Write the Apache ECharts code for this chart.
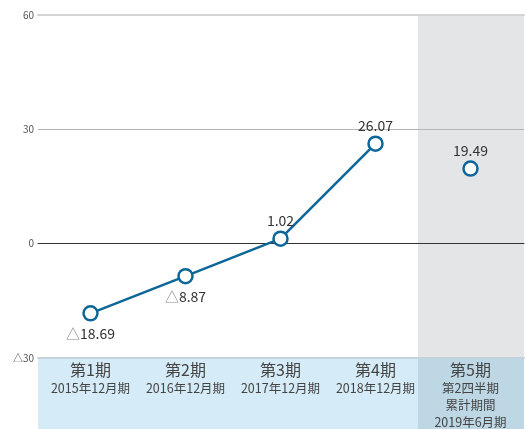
<!DOCTYPE html>
<html>
<head>
<meta charset="utf-8">
<script src="https://cdn.jsdelivr.net/npm/echarts@6/dist/echarts.min.js"></script>
<style>
  html, body { margin: 0; padding: 0; background: #fff; }
  #chart { width: 527px; height: 429px; }
</style>
</head>
<body>
<div id="chart"></div>
<script>
var categories = ['第1期', '第2期', '第3期', '第4期', '第5期'];
var periodLabels = ['2015年12月期', '2016年12月期', '2017年12月期', '2018年12月期', '第2四半期\n累計期間\n2019年6月期'];
var annualValues = [-18.69, -8.87, 1.02, 26.07, '-'];
var interimValues = ['-', '-', '-', '-', 19.49];
var yMin = -30, yMax = 60, yStep = 30;

var font = '"Noto Sans CJK JP", "Noto Sans", sans-serif';
var lineColor = '#0d6698';

// plot frame (pixels)
var frameLeft = 38, frameRight = 524, plotTop = 15, plotBottom = 358, splitX = 418;

function fmtNum(v) {
    if (v < 0) return '{tri|△}{num|' + Math.abs(v).toFixed(2) + '}';
    return '{num|' + v.toFixed(2) + '}';
}

function toPoints(arr) {
    return arr.map(function (v) {
        if (v === '-') return '-';
        return { value: v, label: { position: v < 0 ? 'bottom' : 'top', distance: v < 0 ? 5 : 3 } };
    });
}

var labelRich = {
    tri: { fontFamily: font, fontSize: 14, color: '#888' },
    num: { fontFamily: font, fontSize: 14, color: '#333' }
};

var chart = echarts.init(document.getElementById('chart'));
var option = {
    animation: false,
    backgroundColor: '#fff',
    textStyle: { fontFamily: font },
    graphic: [
        { type: 'rect', z: -10, shape: { x: splitX, y: plotTop, width: frameRight - splitX, height: plotBottom - plotTop }, style: { fill: '#e4e5e7' } },
        { type: 'rect', z: -10, shape: { x: frameLeft, y: plotBottom, width: splitX - frameLeft, height: 429 - plotBottom }, style: { fill: '#d5ebf7' } },
        { type: 'rect', z: -10, shape: { x: splitX, y: plotBottom, width: frameRight - splitX, height: 429 - plotBottom }, style: { fill: '#bed7e4' } }
    ],
    grid: [
        { left: 43, right: 9, top: plotTop, bottom: 429 - plotBottom },
        { left: frameLeft, right: 527 - frameRight, top: plotTop, bottom: 429 - plotBottom }
    ],
    xAxis: [{
        type: 'category',
        gridIndex: 0,
        data: categories,
        axisLine: { show: false },
        axisTick: { show: false },
        axisLabel: {
            margin: 4,
            interval: 0,
            formatter: function (v, i) {
                var lines = periodLabels[i].split('\n').map(function (s) { return '{s|' + s + '}'; });
                return '{t|' + v + '}\n' + lines.join('\n');
            },
            rich: {
                t: { fontFamily: font, fontSize: 16, lineHeight: 20, color: '#444' },
                s: { fontFamily: font, fontSize: 12.5, lineHeight: 17, color: '#444' }
            }
        }
    }, {
        type: 'value',
        gridIndex: 1,
        position: 'top',
        min: 0,
        max: 1,
        axisLine: { show: true, onZero: false, lineStyle: { color: '#d4d4d4', width: 2 } },
        axisTick: { show: false },
        axisLabel: { show: false },
        splitLine: { show: false }
    }, {
        type: 'value',
        gridIndex: 1,
        position: 'bottom',
        min: 0,
        max: 1,
        axisLine: { show: true, onZero: true, lineStyle: { color: '#333', width: 1 } },
        axisTick: { show: false },
        axisLabel: { show: false },
        splitLine: { show: false }
    }, {
        type: 'value',
        gridIndex: 1,
        position: 'bottom',
        min: 0,
        max: 1,
        axisLine: { show: true, onZero: false, lineStyle: { color: '#c3d3dd', width: 2 } },
        axisTick: { show: false },
        axisLabel: { show: false },
        splitLine: { show: false }
    }],
    yAxis: [{
        type: 'value',
        gridIndex: 0,
        min: yMin,
        max: yMax,
        interval: yStep,
        show: false,
        splitLine: { show: false }
    }, {
        type: 'value',
        gridIndex: 1,
        min: yMin,
        max: yMax,
        interval: yStep,
        axisLine: { show: false },
        axisTick: { show: false },
        axisLabel: {
            margin: 4,
            fontSize: 10,
            color: '#555',
            formatter: function (v) { return v < 0 ? '△' + Math.abs(v) : String(v); }
        },
        splitLine: { show: true, lineStyle: { color: '#b4b4b4', width: 1 } }
    }],
    series: [{
        name: 'annual',
        type: 'line',
        xAxisIndex: 0,
        yAxisIndex: 0,
        data: toPoints(annualValues),
        symbol: 'circle',
        symbolSize: 14,
        lineStyle: { color: lineColor, width: 2.5 },
        itemStyle: { color: '#fff', borderColor: lineColor, borderWidth: 2.5 },
        label: {
            show: true,
            formatter: function (p) { return fmtNum(p.value); },
            rich: labelRich
        },
        z: 5
    }, {
        name: 'interim',
        type: 'scatter',
        xAxisIndex: 0,
        yAxisIndex: 0,
        data: toPoints(interimValues),
        symbol: 'circle',
        symbolSize: 14,
        itemStyle: { color: '#fff', borderColor: lineColor, borderWidth: 2.5, opacity: 1 },
        label: {
            show: true,
            formatter: function (p) { return fmtNum(p.value); },
            rich: labelRich
        },
        z: 5
    }]
};
chart.setOption(option);
</script>
</body>
</html>
